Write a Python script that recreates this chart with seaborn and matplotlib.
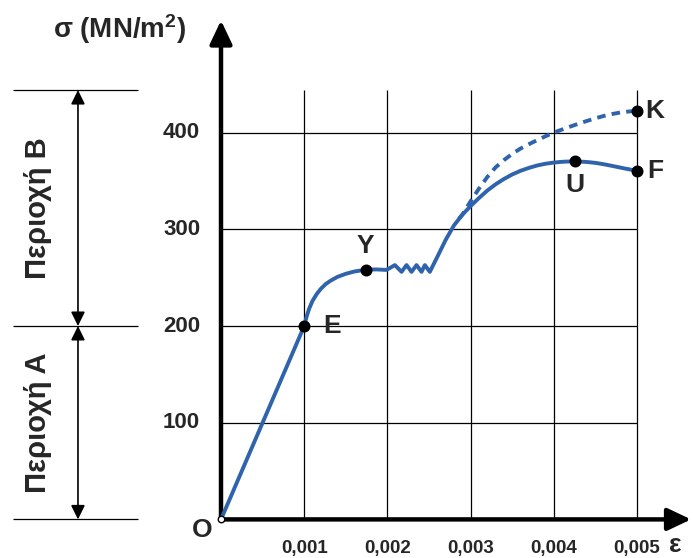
import numpy as np
import pandas as pd
import seaborn as sns
import matplotlib
matplotlib.use("Agg")
import matplotlib.pyplot as plt

# values (strain, stress in MN/m2)
strain_ticks = [0.001, 0.002, 0.003, 0.004, 0.005]
strain_labels = ["0,001", "0,002", "0,003", "0,004", "0,005"]
stress_ticks = [100, 200, 300, 400]
stress_labels = ["100", "200", "300", "400"]
grid_top = 444

# solid curve: O -> E -> Y -> yield zigzag -> U -> F
curve_x = [0.0, 0.001, 0.00103, 0.00106, 0.0011, 0.00115, 0.0012, 0.00126,
           0.00132, 0.0014, 0.0015, 0.0016, 0.00174, 0.00187, 0.00199,
           0.00209, 0.00217, 0.00223, 0.00229, 0.00235, 0.00241, 0.00245, 0.00251,
           0.0026, 0.0027, 0.0028, 0.0029, 0.003, 0.0031, 0.0032, 0.0033,
           0.0034, 0.0035, 0.0036, 0.0037, 0.0038, 0.0039, 0.004, 0.0041,
           0.0042, 0.00426, 0.0043, 0.0044, 0.0045, 0.0046, 0.0047, 0.0048,
           0.0049, 0.005]
curve_y = [0, 200, 210, 218, 226, 233, 238.5, 243.5,
           247, 250.8, 254, 256.3, 258.3, 258.5, 258,
           263, 256, 263, 256, 263, 256, 263, 256,
           271.5, 289, 304, 315, 324, 332.3, 340, 346.5,
           352, 356.7, 360.5, 363.5, 366, 367.8, 369, 369.8,
           370.2, 370.2, 370.1, 369.6, 368.7, 367.3, 365.6, 363.8,
           362.1, 360.5]

# dashed curve up to K
dash_x = [0.00286, 0.0029, 0.003, 0.0031, 0.0032, 0.0033, 0.0034, 0.0035,
          0.0036, 0.0037, 0.0038, 0.0039, 0.004, 0.0041, 0.0042, 0.0043,
          0.0044, 0.0045, 0.0046, 0.0047, 0.0048, 0.0049, 0.005]
dash_y = [311, 315, 329, 342, 354, 364, 371.5, 378,
          383.5, 388, 392.2, 396.2, 400, 403.2, 406.3, 409.3,
          412.1, 414.8, 417.2, 419.2, 420.8, 421.8, 422.5]

point_names = ["E", "Y", "U", "F", "K"]
point_x = [0.001, 0.00174, 0.00426, 0.005, 0.005]
point_y = [200, 258.3, 370.2, 360.5, 422.5]

regions = ["Περιοχή Α", "Περιοχή Β"]
region_edges = [0, 200, grid_top]

sns.set_style("white")
plt.rcParams["font.family"] = ["Liberation Sans", "DejaVu Sans"]
plt.rcParams["font.weight"] = "bold"
plt.rcParams["mathtext.fontset"] = "custom"
plt.rcParams["mathtext.rm"] = "Liberation Sans:bold"
plt.rcParams["mathtext.it"] = "Liberation Sans:bold"
plt.rcParams["mathtext.bf"] = "Liberation Sans:bold"

blue = "#2F64AC"

fig = plt.figure(figsize=(6.93, 5.58), dpi=100)
ax = fig.add_axes([0, 0, 1, 1])

# grid
ax.vlines(strain_ticks, 0, grid_top, color="black", lw=0.9, zorder=1)
ax.hlines(stress_ticks, 0, strain_ticks[-1], color="black", lw=0.9, zorder=1)

# axes with arrows
arrow_kw = dict(arrowstyle="-|>,head_length=0.95,head_width=0.45", color="black",
                lw=3.2, shrinkA=0, shrinkB=0, mutation_scale=15)
ax.annotate("", xy=(0, 516), xytext=(0, 0), arrowprops=arrow_kw, zorder=3)
ax.annotate("", xy=(0.00565, 0), xytext=(0, 0), arrowprops=arrow_kw, zorder=3)

# curves
solid = pd.DataFrame({"strain": curve_x, "stress": curve_y})
dashed = pd.DataFrame({"strain": dash_x, "stress": dash_y})
sns.lineplot(data=dashed, x="strain", y="stress", ax=ax, sort=False, color=blue,
             lw=2.8, linestyle=(0, (2.2, 1.6)), zorder=4)
sns.lineplot(data=solid, x="strain", y="stress", ax=ax, sort=False, color=blue,
             lw=2.8, zorder=5)

# pixel mapping: origin at (221, 519.4), 83.2 px per 0.001, 0.967 px per MN/m2
ax.set_xlim(-221 / 83200, (693 - 221) / 83200)
ax.set_ylim((519.4 - 558) / 0.967, 519.4 / 0.967)
ax.axis("off")

# marked points
ax.scatter(point_x, point_y, s=58, color="black", zorder=6)
ax.scatter([0], [0], s=22, facecolor="white", edgecolor="black", lw=1, zorder=7)

offsets = {"E": (20, 0), "Y": (0, 17), "U": (0, -17), "F": (13, 0), "K": (13, 0)}
for name, px, py in zip(point_names, point_x, point_y):
    ax.annotate(name, (px, py), xytext=offsets[name], textcoords="offset points",
                ha="center", va="center", fontsize=19, fontweight="bold")

ax.text(-0.000228, -11.4, "O", ha="center", va="center", fontsize=19, fontweight="bold")
ax.text(0.00546, -26.5, "ε", ha="center", va="center", fontsize=19, fontweight="bold")
ax.text(-0.001214, 507, "σ (MN/m$^2$)", ha="center", va="center", fontsize=20,
        fontweight="bold")

# tick labels
for t, lab in zip(strain_ticks, strain_labels):
    ax.text(t, -29.6, lab, ha="center", va="center", fontsize=13.5, fontweight="bold")
for t, lab in zip(stress_ticks, stress_labels):
    ax.text(-0.00025, t, lab, ha="right", va="center", fontsize=16, fontweight="bold")

# region brackets
ax.hlines(region_edges, -0.0025, -0.000998, color="black", lw=0.9)
reg_kw = dict(arrowstyle="<|-|>,head_length=0.85,head_width=0.42", color="black",
              lw=1.2, shrinkA=0, shrinkB=0, mutation_scale=10)
for i, name in enumerate(regions):
    lo, hi = region_edges[i], region_edges[i + 1]
    ax.annotate("", xy=(-0.001719, hi), xytext=(-0.001719, lo), arrowprops=reg_kw)
    ax.text(-0.0022, (lo + hi) / 2, name, rotation=90, ha="center", va="center",
            fontsize=21, fontweight="bold")

fig.savefig("out.png", dpi=100)
